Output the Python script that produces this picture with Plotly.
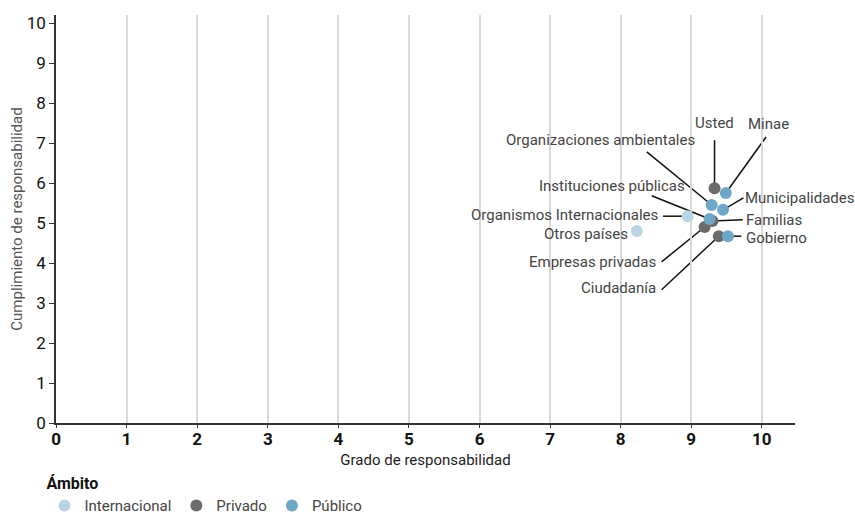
import plotly.graph_objects as go

# ---- data ----
groups = ["Internacional", "Privado", "Público"]
colors = {"Internacional": "#b9d5e4", "Privado": "#6b6b6b", "Público": "#6fa7c7"}

names = ["Organismos Internacionales", "Otros países",
         "Usted", "Familias", "Empresas privadas", "Ciudadanía",
         "Minae", "Organizaciones ambientales", "Municipalidades", "Instituciones públicas", "Gobierno"]
group_of = ["Internacional", "Internacional",
            "Privado", "Privado", "Privado", "Privado",
            "Público", "Público", "Público", "Público", "Público"]
grado = [8.95, 8.23, 9.33, 9.30, 9.19, 9.39, 9.49, 9.29, 9.45, 9.26, 9.52]
cumplimiento = [5.17, 4.80, 5.87, 5.05, 4.90, 4.67, 5.75, 5.45, 5.33, 5.10, 4.67]

# ---- label layout (text anchor, leader-line tail) ----
label_x = [8.56, 8.13, 9.33, 9.75, 8.53, 8.53, 9.77, 9.08, 9.74, 8.94, 9.75]
label_y = [5.20, 4.72, 7.50, 5.08, 4.02, 3.38, 7.47, 7.08, 5.63, 5.93, 4.63]
label_anchor = ["right", "right", "center", "left", "right", "right", "left", "right", "left", "right", "left"]
tail_x = [8.60, None, 9.33, 9.73, 8.58, 8.58, 10.06, 8.37, 9.74, 8.44, 9.71]
tail_y = [5.17, None, 7.07, 5.08, 4.03, 3.33, 7.15, 6.78, 5.63, 5.68, 4.67]

FONT = "Roboto, Liberation Sans, sans-serif"

fig = go.Figure()
for g in groups:
    xs = [grado[i] for i in range(len(names)) if group_of[i] == g]
    ys = [cumplimiento[i] for i in range(len(names)) if group_of[i] == g]
    tx = [names[i] for i in range(len(names)) if group_of[i] == g]
    fig.add_trace(go.Scatter(x=xs, y=ys, mode="markers", name=g, text=tx,
                             marker=dict(size=12, color=colors[g]),
                             hovertemplate="%{text}<br>%{x}, %{y}<extra></extra>"))

shapes = []
annotations = []
for i in range(len(names)):
    if tail_x[i] is not None:
        shapes.append(dict(type="line", xref="x", yref="y", layer="below",
                           x0=tail_x[i], y0=tail_y[i], x1=grado[i], y1=cumplimiento[i],
                           line=dict(color="#111111", width=1.5)))
    annotations.append(dict(x=label_x[i], y=label_y[i], xref="x", yref="y", text=names[i],
                            showarrow=False, xanchor=label_anchor[i], yanchor="middle",
                            font=dict(family=FONT, size=15, color="#444444")))

fig.update_layout(
    width=855, height=516,
    margin=dict(l=56, r=60, t=15, b=93, autoexpand=False),
    plot_bgcolor="white", paper_bgcolor="white",
    font=dict(family=FONT, size=15, color="#222222"),
    shapes=shapes, annotations=annotations,
    showlegend=True,
    legend=dict(orientation="h", xref="container", yref="container",
                x=0.052, xanchor="left", y=0.092, yanchor="top",
                title=dict(text="<b>Ámbito</b>", side="top", font=dict(size=16, color="#111111")),
                font=dict(size=15, color="#444444"), itemwidth=30, tracegroupgap=0),
    xaxis=dict(range=[0, 10.47], tickvals=list(range(0, 11)), showgrid=True, automargin=True,
               gridcolor="#d9d9d9", gridwidth=1.5, zeroline=False,
               showline=True, linecolor="#333333", linewidth=1.5,
               ticks="outside", ticklen=3, tickcolor="#333333", ticklabelstandoff=-3,
               tickfont=dict(size=17, color="#111111", family=FONT, weight="bold"),
               title=dict(text="Grado de responsabilidad", font=dict(size=15, color="#222222"), standoff=14)),
    yaxis=dict(range=[0, 10.2], tickvals=list(range(0, 11)), showgrid=False, zeroline=False, automargin=True,
               showline=True, linecolor="#333333", linewidth=1.5,
               ticks="outside", ticklen=5, tickcolor="#333333",
               tickfont=dict(size=17, color="#111111"),
               title=dict(text="Cumplimiento de responsabilidad", font=dict(size=15, color="#555555"), standoff=0)),
)

fig.write_html("out.html", config={"displayModeBar": False},
               post_script="document.body.style.margin='0';")
